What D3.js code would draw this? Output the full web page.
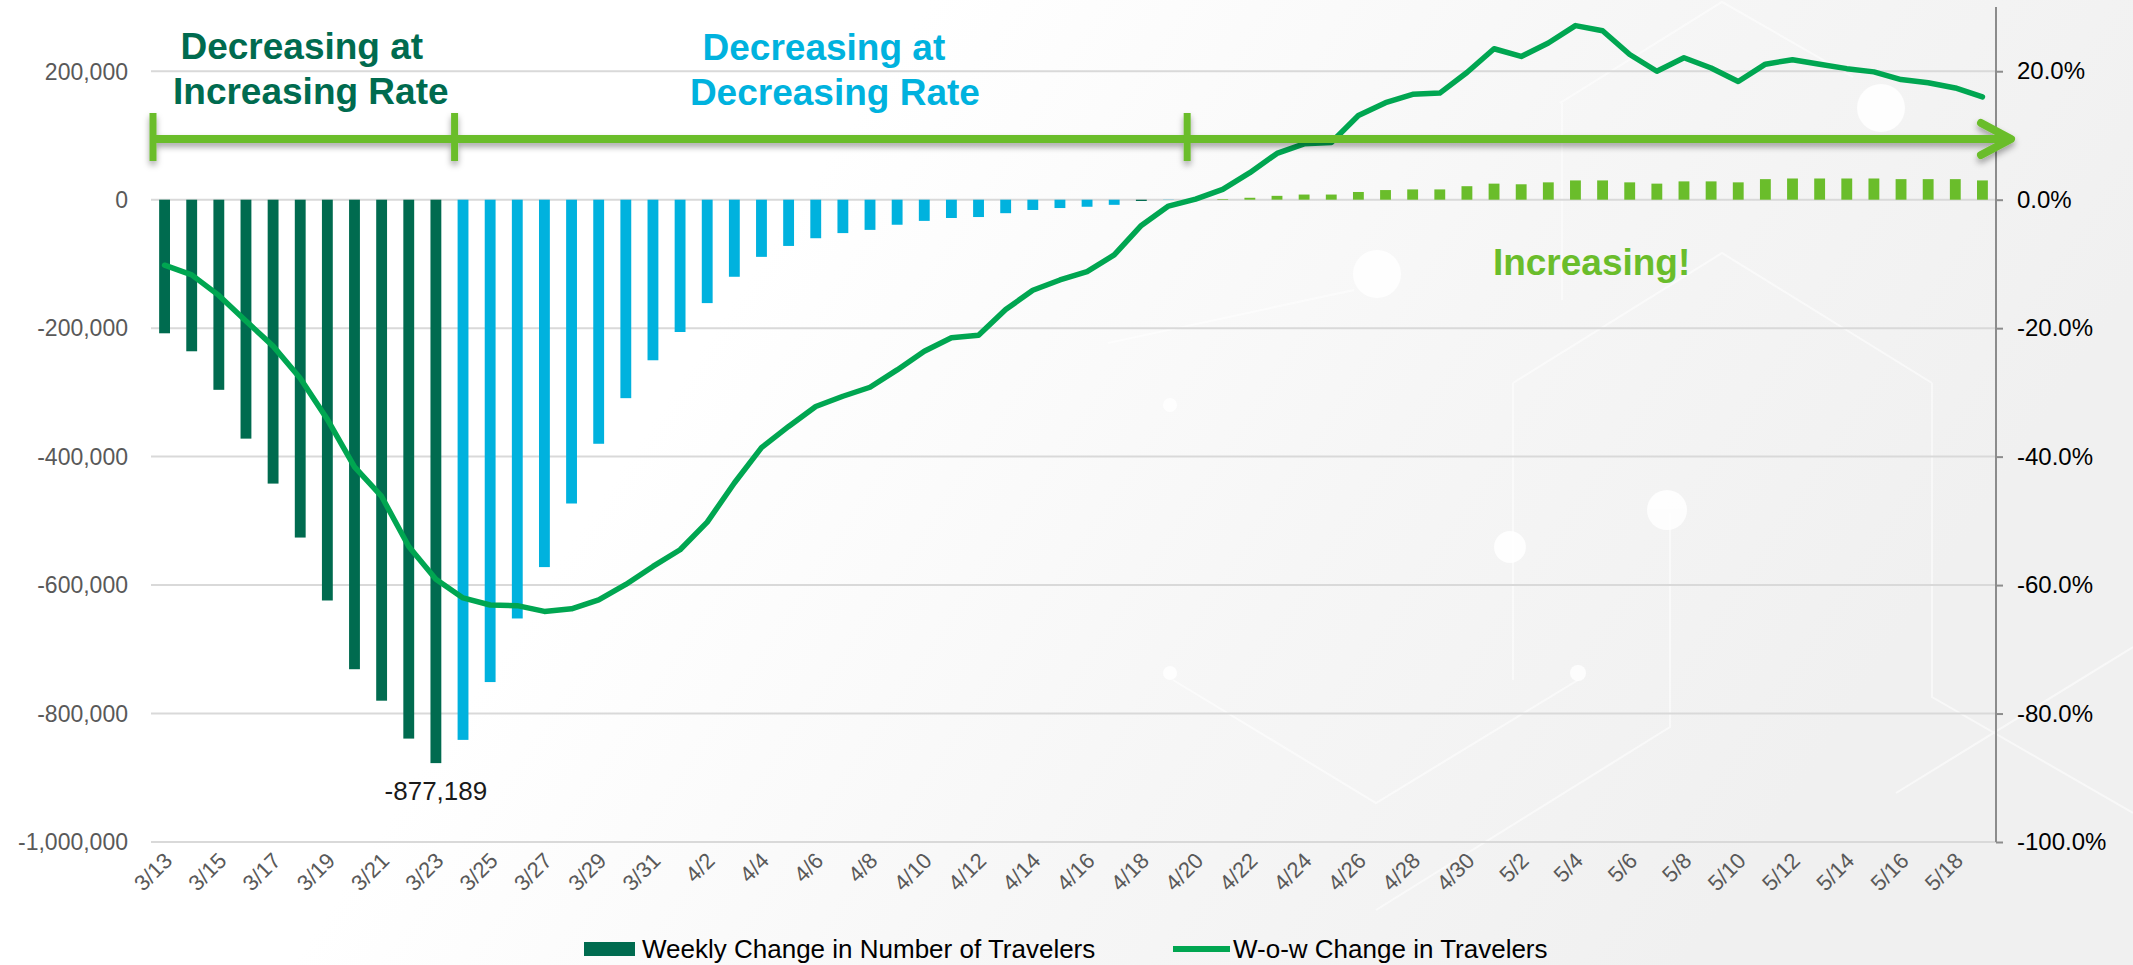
<!DOCTYPE html>
<html>
<head>
<meta charset="utf-8">
<script src="https://cdn.jsdelivr.net/npm/d3@7"></script>
<style>
  body { margin: 0; background: #fff; overflow: hidden; }
  text { font-family: Arial, "Liberation Sans", sans-serif; }
</style>
</head>
<body>
<svg id="chart" width="2133" height="965"></svg>
<script>
// ---- data ----
var dates = ["3/13","3/14","3/15","3/16","3/17","3/18","3/19","3/20","3/21","3/22","3/23","3/24","3/25","3/26","3/27","3/28","3/29","3/30","3/31",
  "4/1","4/2","4/3","4/4","4/5","4/6","4/7","4/8","4/9","4/10","4/11","4/12","4/13","4/14","4/15","4/16","4/17","4/18","4/19","4/20",
  "4/21","4/22","4/23","4/24","4/25","4/26","4/27","4/28","4/29","4/30",
  "5/1","5/2","5/3","5/4","5/5","5/6","5/7","5/8","5/9","5/10","5/11","5/12","5/13","5/14","5/15","5/16","5/17","5/18","5/19"];

// weekly change in number of travelers (left axis)
var weeklyChange = [-208000,-236000,-296000,-372000,-442000,-526000,-624000,-731000,-780000,-839000,-877189,
  -841000,-751000,-652000,-572000,-473000,-380000,-309000,-250000,-206000,-161000,-120000,-89000,-72000,-60000,
  -52000,-47000,-39000,-33000,-28500,-27000,-21000,-16000,-13000,-11000,-8000,-2000,-300,0,
  1000,3000,6000,8000,8000,12000,15000,16000,16000,21000,25000,24000,27000,30000,30000,27000,25000,28500,
  28500,27000,32000,33000,33000,33000,33000,32000,32000,32000,30000];

// week-over-week change in travelers, % (right axis)
var wowChange = [-10.2,-11.7,-14.9,-18.9,-22.8,-27.8,-34.2,-41.6,-46.2,-54.0,-59.1,-62.0,-63.1,-63.2,-64.1,-63.7,
  -62.3,-59.9,-57.1,-54.5,-50.2,-44.1,-38.6,-35.3,-32.2,-30.6,-29.2,-26.5,-23.6,-21.5,-21.1,-17.1,-14.1,-12.5,
  -11.2,-8.6,-4.0,-1.0,0.1,1.6,4.2,7.2,8.7,8.9,13.1,15.1,16.4,16.6,19.8,23.5,22.3,24.4,27.1,26.3,22.6,20.0,
  22.1,20.5,18.4,21.1,21.8,21.1,20.4,19.9,18.7,18.2,17.4,16.0];

var leftTicks = [-1000000,-800000,-600000,-400000,-200000,0,200000];
var rightTicks = [-100,-80,-60,-40,-20,0,20];

// phase boundaries (dates where the annotation arrow has a tick)
var phaseStarts = ["3/13","3/24","4/20"];
var phaseLines = [["Decreasing at","Increasing Rate"],["Decreasing at","Decreasing Rate"],["Increasing!"]];
var peakLabel = {date: "3/23", text: "-877,189"};

var legendItems = ["Weekly Change in Number of Travelers","W-o-w Change in Travelers"];

// ---- colours ----
var darkGreen = "#006b4f",
    blue = "#00b2de",
    lightGreen = "#6abd2b",
    lineGreen = "#00a651";

// plain hyphen for negatives, like the original
var fmt = d3.formatLocale({decimal: ".", thousands: ",", grouping: [3], currency: ["$", ""], minus: "-"});

var svg = d3.select("#chart");
var width = 2133, height = 965;
var plotLeft = 151, plotRight = 1996, plotTop = 7, plotBottom = 842;

// background
var defs = svg.append("defs");
var bg = defs.append("linearGradient").attr("id","bg").attr("x1","0").attr("x2","1").attr("y1","0").attr("y2","0.3");
bg.append("stop").attr("offset","0").attr("stop-color","#ffffff");
bg.append("stop").attr("offset","0.4").attr("stop-color","#ffffff");
bg.append("stop").attr("offset","0.72").attr("stop-color","#f6f6f6");
bg.append("stop").attr("offset","1").attr("stop-color","#f0f0f0");
var shadow = defs.append("filter").attr("id","shadow").attr("x","-5%").attr("y","-50%").attr("width","110%").attr("height","300%");
shadow.append("feDropShadow").attr("dx",0).attr("dy",4).attr("stdDeviation",3).attr("flood-color","#000").attr("flood-opacity",0.35);

svg.append("rect").attr("width",width).attr("height",height).attr("fill","url(#bg)");

// faint hexagon network in the background
var deco = svg.append("g").attr("stroke","#ffffff").attr("stroke-width",2).attr("fill","none").attr("opacity",0.55);
[[[1560,103],[1722,2],[1853,77]],[[1562,103],[1562,300]],[[1108,343],[1354,290]],
 [[1513,383],[1722,253],[1932,383]],[[1513,383],[1513,680]],[[1932,383],[1932,697],[2133,813]],
 [[1173,680],[1376,803],[1578,680]],[[1670,513],[1670,727],[1376,910]],[[1896,793],[2133,647]]]
  .forEach(function(pts){ deco.append("polyline").attr("points", pts.join(" ")); });
var dots = svg.append("g").attr("fill","#ffffff").attr("opacity",0.85);
[[1377,274,24],[1667,510,20],[1510,547,16],[1881,108,24],[1578,673,8],[1170,405,7],[1170,673,7]]
  .forEach(function(c){ dots.append("circle").attr("cx",c[0]).attr("cy",c[1]).attr("r",c[2]); });

// ---- scales ----
var x = d3.scaleBand().domain(dates).range([plotLeft, plotRight]).paddingInner(0.6).paddingOuter(0.3);
var yLeft = d3.scaleLinear().domain([-1000000, 300000]).range([plotBottom, plotTop]);
var yRight = d3.scaleLinear().domain([-100, 30]).range([plotBottom, plotTop]);
var cx = function(d){ return x(d) + x.bandwidth()/2; };

// gridlines
svg.append("g").selectAll("line").data(leftTicks).enter().append("line")
  .attr("x1", plotLeft).attr("x2", plotRight)
  .attr("y1", function(d){ return yLeft(d); }).attr("y2", function(d){ return yLeft(d); })
  .attr("stroke","#d9d9d9").attr("stroke-width",2);

// left axis labels
svg.append("g").selectAll("text").data(leftTicks).enter().append("text")
  .attr("x", 128).attr("y", function(d){ return yLeft(d); }).attr("dy","0.36em")
  .attr("text-anchor","end").attr("fill","#595959").style("font-size","23px")
  .text(function(d){ return fmt.format(",")(d); });

// right axis
var rightAxis = d3.axisRight(yRight).tickValues(rightTicks).tickSize(7).tickPadding(14)
  .tickFormat(function(d){ return fmt.format(".1f")(d) + "%"; });
var ra = svg.append("g").attr("transform","translate(" + plotRight + ",0)").call(rightAxis);
ra.select(".domain").attr("stroke","#8c8c8c").attr("stroke-width",2).attr("d","M0," + plotTop + "V" + plotBottom);
ra.selectAll(".tick line").attr("stroke","#8c8c8c").attr("stroke-width",2);
ra.selectAll(".tick text").attr("fill","#000").style("font-size","24px").style("font-family","Arial, 'Liberation Sans', sans-serif");

// x axis labels (every other day)
svg.append("g").selectAll("text").data(dates.filter(function(d,i){ return i % 2 === 0; })).enter().append("text")
  .attr("transform", function(d){ return "translate(" + (cx(d) + 9) + "," + 862 + ") rotate(-45)"; })
  .attr("text-anchor","end").attr("fill","#595959").style("font-size","22px")
  .text(function(d){ return d; });

// bars
var barColor = function(v, i){
  if (v > 0) return lightGreen;
  if (i <= dates.indexOf("3/23") || dates[i] === "4/18") return darkGreen;
  return blue;
};
svg.append("g").selectAll("rect").data(weeklyChange).enter().append("rect")
  .attr("x", function(d,i){ return x(dates[i]); })
  .attr("width", x.bandwidth())
  .attr("y", function(d){ return Math.min(yLeft(d), yLeft(0)); })
  .attr("height", function(d){ return Math.abs(yLeft(d) - yLeft(0)); })
  .attr("fill", barColor);

// w-o-w line
var line = d3.line()
  .x(function(d,i){ return cx(dates[i]); })
  .y(function(d){ return yRight(d); });
svg.append("path").datum(wowChange)
  .attr("d", line).attr("fill","none")
  .attr("stroke", lineGreen).attr("stroke-width",5.5)
  .attr("stroke-linejoin","round").attr("stroke-linecap","round");

// peak label
svg.append("text").attr("x", cx(peakLabel.date)).attr("y", 800)
  .attr("text-anchor","middle").attr("fill","#1a1a1a").style("font-size","26px")
  .text(peakLabel.text);

// ---- phase arrow annotation ----
var arrowY = 139;
var tickXs = phaseStarts.map(function(d){ return x(d) - 3; });
tickXs[0] = plotLeft + 2;
var arrow = svg.append("g").attr("filter","url(#shadow)")
  .attr("stroke", lightGreen).attr("fill","none");
arrow.append("line").attr("x1", tickXs[0]).attr("x2", plotRight + 12)
  .attr("y1", arrowY).attr("y2", arrowY).attr("stroke-width",8);
arrow.append("polyline")
  .attr("points", [[plotRight - 15, arrowY - 16],[plotRight + 15, arrowY],[plotRight - 15, arrowY + 16]].join(" "))
  .attr("stroke-width",8).attr("stroke-linecap","round").attr("stroke-linejoin","round");
arrow.selectAll(".ptick").data(tickXs).enter().append("line")
  .attr("x1", function(d){ return d; }).attr("x2", function(d){ return d; })
  .attr("y1", arrowY - 26).attr("y2", arrowY + 22).attr("stroke-width",7);

// phase text
var phaseColors = [darkGreen, blue, lightGreen];
var ends = tickXs.slice(1).concat([plotRight]);
var lineNudge = [[-2,7],[3,14],[0]];
var baseY = [[59,104],[60,105],[275]];
phaseLines.forEach(function(lines, p){
  var mid = (tickXs[p] + ends[p]) / 2;
  lines.forEach(function(t, k){
    svg.append("text").attr("x", mid + lineNudge[p][k]).attr("y", baseY[p][k])
      .attr("text-anchor","middle").attr("fill", phaseColors[p])
      .style("font-size","37px").style("font-weight","bold")
      .text(t);
  });
});

// ---- legend ----
var lg = svg.append("g");
lg.append("rect").attr("x",584).attr("y",942).attr("width",51).attr("height",14).attr("fill",darkGreen);
lg.append("text").attr("x",642).attr("y",958).attr("fill","#000").style("font-size","26px").text(legendItems[0]);
lg.append("line").attr("x1",1173).attr("x2",1230).attr("y1",949).attr("y2",949)
  .attr("stroke",lineGreen).attr("stroke-width",6);
lg.append("text").attr("x",1233).attr("y",958).attr("fill","#000").style("font-size","26px").text(legendItems[1]);
</script>
</body>
</html>
